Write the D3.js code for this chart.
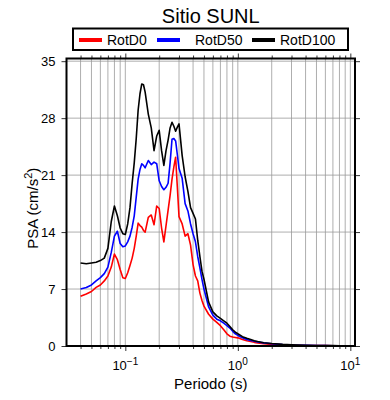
<!DOCTYPE html>
<html><head><meta charset="utf-8">
<script src="https://cdn.jsdelivr.net/npm/d3@7"></script>
<style>body{margin:0;background:#fff}svg{display:block;font-family:"Liberation Sans",Arial,sans-serif}</style>
</head><body><svg id="c" width="390" height="400"></svg>
<script>
const title = "Sitio SUNL";
const seriesNames = ["RotD0", "RotD50", "RotD100"];
const seriesColors = ["#ff0000", "#0000ff", "#000000"];
const periods = [0.04,0.045,0.05,0.055,0.06,0.065,0.07,0.075,0.08,0.085,0.09,0.095,0.1,0.105,0.11,0.115,0.12,0.125,0.13,0.135,0.14,0.145,0.15,0.16,0.17,0.18,0.19,0.2,0.21,0.22,0.23,0.24,0.25,0.26,0.27,0.28,0.29,0.3,0.32,0.34,0.36,0.38,0.4,0.42,0.44,0.46,0.48,0.5,0.55,0.6,0.65,0.7,0.75,0.8,0.85,0.9,0.95,1.0,1.1,1.2,1.3,1.4,1.5,1.7,2.0,2.5,3,4,5,6,7,8,10];
const rotD0 = [6.1,6.4,6.7,7.2,7.5,8.0,8.6,9.7,11.3,10.6,9.4,8.4,8.3,9.0,9.9,10.8,12.0,13.5,15.1,14.8,14.6,14.2,14.0,15.8,16.1,14.9,17.2,16.9,14.5,12.8,14.8,16.7,18.5,20.5,22.0,23.2,19.5,15.9,15.0,13.5,13.8,12.4,10.0,8.6,8.0,6.5,5.6,4.9,3.9,3.3,2.9,2.5,2.0,1.5,1.2,1.1,1.05,1.0,0.8,0.65,0.55,0.45,0.38,0.28,0.2,0.14,0.1,0.07,0.05,0.04,0.03,0.025,0.015];
const rotD50 = [7.0,7.2,7.5,8.0,8.4,8.9,9.7,11.5,13.5,14.1,12.6,12.2,12.3,12.8,13.5,14.6,16.0,18.3,20.5,21.7,22.4,22.2,21.9,22.8,22.3,22.6,22.4,20.3,19.6,19.2,19.5,20.0,22.5,25.4,25.5,25.2,23.5,21.8,20.6,17.5,16.6,15.0,13.8,12.8,11.0,9.6,8.2,7.0,4.8,3.8,3.3,3.1,2.8,2.5,2.2,1.8,1.5,1.3,1.0,0.8,0.68,0.58,0.5,0.38,0.28,0.18,0.13,0.09,0.06,0.045,0.035,0.03,0.02];
const rotD100 = [10.2,10.1,10.2,10.3,10.5,10.8,12.0,15.3,17.2,16.0,14.5,13.8,13.7,15.0,17.0,20.0,22.5,25.5,29.0,31.0,32.2,32.1,31.2,28.5,26.8,24.0,25.8,26.5,24.0,22.2,24.0,25.3,26.8,27.5,27.0,26.4,26.9,27.3,23.4,20.8,19.0,17.0,16.3,15.6,13.0,11.0,9.2,8.2,5.4,4.2,3.7,3.4,3.1,2.8,2.4,2.0,1.7,1.5,1.15,0.95,0.8,0.65,0.55,0.4,0.3,0.2,0.15,0.1,0.07,0.05,0.04,0.03,0.02];
const yTicks = [0,7,14,21,28,35];
const xDecades = [0.1, 1, 10];
const xLabel = "Periodo (s)";

const svg = d3.select("#c");
const L = 66.5, R = 355, T = 58.5, B = 346;
const x = d3.scaleLog().domain([0.03, 11]).range([L, R]);
const y = d3.scaleLinear().domain([0, 35.33]).range([B, T]);

const minor = [];
[0.01, 0.1, 1].forEach(d => { for (let k = 1; k <= 9; k++) { const v = d * k; if (v > 0.03 && v < 11) minor.push(v); } });
minor.push(10);

const grid = svg.append("g");
grid.selectAll("line.v").data(minor).join("line")
  .attr("x1", d => x(d)).attr("x2", d => x(d)).attr("y1", T).attr("y2", B)
  .attr("stroke", "#999").attr("stroke-width", 0.8);
grid.selectAll("line.h").data(yTicks.filter(d => d > 0)).join("line")
  .attr("x1", L).attr("x2", R).attr("y1", d => y(d)).attr("y2", d => y(d))
  .attr("stroke", "#999").attr("stroke-width", 0.8);

const data = [rotD0, rotD50, rotD100];
const line = d3.line().x(d => x(d[0])).y(d => y(d[1]));
data.forEach((vals, i) => {
  svg.append("path").datum(periods.map((p, j) => [p, vals[j]]))
    .attr("d", line).attr("fill", "none").attr("stroke", seriesColors[i])
    .attr("stroke-width", 1.6).attr("stroke-linejoin", "round");
});

const majorSet = new Set(xDecades);
const gb = svg.append("g").attr("transform", `translate(0,${B})`).call(d3.axisBottom(x).tickValues(minor).tickSizeOuter(0).tickFormat(""));
const gt = svg.append("g").attr("transform", `translate(0,${T})`).call(d3.axisTop(x).tickValues(minor).tickSizeOuter(0).tickFormat(""));
gb.select(".domain").remove(); gt.select(".domain").remove();
gb.selectAll(".tick line").attr("stroke", "#000").attr("stroke-width", 0.8).attr("y2", d => majorSet.has(d) ? 5 : 3);
gt.selectAll(".tick line").attr("stroke", "#000").attr("stroke-width", 0.8).attr("y2", d => majorSet.has(d) ? -5 : -3);

const gl = svg.append("g").attr("transform", `translate(${L},0)`).call(d3.axisLeft(y).tickValues(yTicks).tickSize(5).tickSizeOuter(0).tickPadding(6));
gl.select(".domain").remove();
gl.selectAll(".tick line").attr("stroke", "#000").attr("stroke-width", 0.8);
gl.selectAll(".tick text").attr("font-size", 13).attr("fill", "#000").attr("font-family", "Liberation Sans, Arial, sans-serif");
const gr = svg.append("g").attr("transform", `translate(${R},0)`).call(d3.axisRight(y).tickValues(yTicks).tickSize(5).tickSizeOuter(0).tickFormat(""));
gr.select(".domain").remove();
gr.selectAll(".tick line").attr("stroke", "#000").attr("stroke-width", 0.8);

svg.append("rect").attr("x", L).attr("y", T).attr("width", R - L).attr("height", B - T)
  .attr("fill", "none").attr("stroke", "#000").attr("stroke-width", 2);

xDecades.forEach(d => {
  const e = Math.round(Math.log10(d));
  const t = svg.append("text").attr("x", x(d)).attr("y", 370).attr("text-anchor", "middle").attr("font-size", 13);
  t.append("tspan").text("10");
  t.append("tspan").attr("dy", -5).attr("font-size", 10).text(e < 0 ? "\u2212" + Math.abs(e) : String(e));
});
svg.append("text").attr("x", (L + R) / 2).attr("y", 389).attr("text-anchor", "middle").attr("font-size", 15).text(xLabel);

const yl = svg.append("text").attr("transform", `translate(38,${(T + B) / 2 + 6}) rotate(-90)`).attr("text-anchor", "middle").attr("font-size", 15);
yl.append("tspan").text("PSA (cm/s");
yl.append("tspan").attr("dy", -6).attr("font-size", 11).text("2");
yl.append("tspan").attr("dy", 6).text(")");

svg.append("text").attr("x", (L + R) / 2).attr("y", 23).attr("text-anchor", "middle").attr("font-size", 20).text(title);

const lg = svg.append("g");
lg.append("rect").attr("x", 73).attr("y", 28.5).attr("width", 275).attr("height", 21.5).attr("fill", "#fff").attr("stroke", "#000").attr("stroke-width", 2);
const legX = [79, 157, 252];
seriesNames.forEach((n, i) => {
  lg.append("line").attr("x1", legX[i]).attr("x2", legX[i] + 23).attr("y1", 40).attr("y2", 40).attr("stroke", seriesColors[i]).attr("stroke-width", 4);
  lg.append("text").attr("x", legX[i] + (i === 1 ? 38 : 28)).attr("y", 45).attr("font-size", 14).text(n);
});
</script></body></html>
